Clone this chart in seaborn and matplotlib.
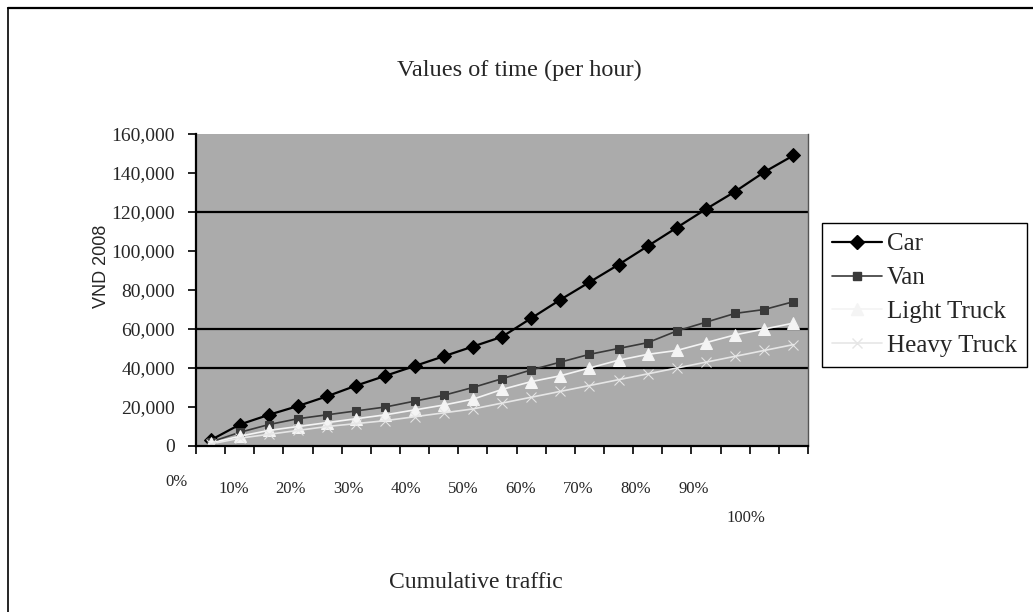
import seaborn as sns
import pandas as pd
import matplotlib.pyplot as plt
from matplotlib.lines import Line2D

# cumulative traffic share, 0% .. 100% in 5% steps
shares = [f"{p}%" for p in range(0, 101, 5)]
car = [3000, 11000, 16000, 20500, 25500, 31000, 36000, 41000, 46000, 51000, 56000,
       65500, 75000, 84000, 93000, 102500, 112000, 121500, 130500, 140500, 149000]
van = [2000, 7000, 11000, 14000, 16000, 18000, 20000, 23000, 26000, 30000, 34500,
       39000, 43000, 47000, 50000, 53000, 59000, 63500, 68000, 70000, 74000]
light_truck = [1500, 5000, 8000, 10000, 12000, 14000, 16000, 18500, 21000, 24000, 29000,
               33000, 36000, 40000, 44000, 47000, 49000, 53000, 57000, 60000, 63000]
heavy_truck = [1000, 4000, 6000, 8000, 10000, 11500, 13000, 15000, 17000, 19000, 22000,
               25000, 28000, 31000, 34000, 37000, 40000, 43000, 46000, 49000, 52000]
x_labels = ["0%", "10%", "20%", "30%", "40%", "50%", "60%", "70%", "80%", "90%", "100%"]
y_ticks = list(range(0, 160001, 20000))
grid_at = [40000, 60000, 120000]

df = pd.DataFrame({"pos": range(len(shares)), "share": shares,
                   "Car": car, "Van": van,
                   "Light Truck": light_truck, "Heavy Truck": heavy_truck})
long = df.melt(id_vars=["pos", "share"], var_name="type", value_name="vot")

sns.set_style("white")
plt.rcParams['font.family'] = ['Liberation Serif', 'DejaVu Serif']

fig = plt.figure(figsize=(10.33, 6.12), dpi=100)
ax = fig.add_axes([196 / 1033, 1 - 446 / 612, 612 / 1033, 312 / 612])
ax.set_facecolor("#ababab")

styles = {
    "Car": dict(color="black", marker="D", ms=7, lw=1.6),
    "Van": dict(color="#3a3a3a", marker="s", ms=6, lw=1.2),
    "Light Truck": dict(color="#f4f4f4", marker="^", ms=8, lw=1.2),
    "Heavy Truck": dict(color="#e6e6e6", marker="x", ms=7, lw=1.2),
}
for name, st in styles.items():
    sns.lineplot(data=long[long["type"] == name], x="pos", y="vot", ax=ax,
                 color=st["color"], marker=st["marker"], markersize=st["ms"],
                 markeredgecolor=st["color"], linewidth=st["lw"], legend=False)

for g in grid_at:
    ax.axhline(g, color="black", lw=1.6, zorder=1)

ax.set_xlim(-0.5, len(shares) - 0.5)
ax.set_ylim(0, 160000)
ax.set_xticks([i - 0.5 for i in range(len(shares) + 1)])
ax.set_xticklabels([])
ax.set_yticks(y_ticks)
ax.set_yticklabels([f"{v:,}" for v in y_ticks], fontsize=14)
ax.tick_params(axis="both", direction="out", length=6, width=1.2, color="black",
               left=True, bottom=True)
ax.tick_params(axis="y", pad=9)
ax.set_xlabel("")
ax.set_ylabel("")
for s in ["left", "bottom"]:
    ax.spines[s].set_color("black")
    ax.spines[s].set_linewidth(1.6)
ax.spines["top"].set_visible(False)
ax.spines["right"].set_color("#555555")
ax.spines["right"].set_linewidth(1.0)

# percent labels sit under the axis, not aligned with the category ticks
for i, lab in enumerate(x_labels):
    xp = 176 + i * 57.5 if i < 10 else 746
    yp = 482 if i == 0 else (518 if i == 10 else 489)
    fig.text(xp / 1033, 1 - yp / 612, lab, fontsize=12, ha="center", va="center")

fig.text(519 / 1033, 1 - 70 / 612, "Values of time (per hour)", fontsize=17.5,
         ha="center", va="center")
fig.text(476 / 1033, 1 - 583 / 612, "Cumulative traffic", fontsize=17,
         ha="center", va="center")
fig.text(101 / 1033, 1 - 266 / 612, "VND 2008", fontsize=13, rotation=90,
         ha="center", va="center", family=["Liberation Sans", "DejaVu Sans"])

handles = [Line2D([], [], color=st["color"], marker=st["marker"], markersize=st["ms"],
                  lw=st["lw"]) for st in styles.values()]
leg = fig.legend(handles, list(styles.keys()), loc="upper left",
                 bbox_to_anchor=(822 / 1033, 1 - 223 / 612), fontsize=18,
                 frameon=True, fancybox=False, edgecolor="black", framealpha=1,
                 handlelength=2.0, handletextpad=0.2, labelspacing=0.45,
                 borderpad=0.4, borderaxespad=0)
leg.get_frame().set_linewidth(1.0)

# outer frame of the chart
fig.add_artist(Line2D([8 / 1033, 8 / 1033], [0, 1 - 8 / 612], color="black", lw=1.2))
fig.add_artist(Line2D([8 / 1033, 1], [1 - 8 / 612, 1 - 8 / 612], color="black", lw=1.6))

fig.savefig("out.png", dpi=100)
